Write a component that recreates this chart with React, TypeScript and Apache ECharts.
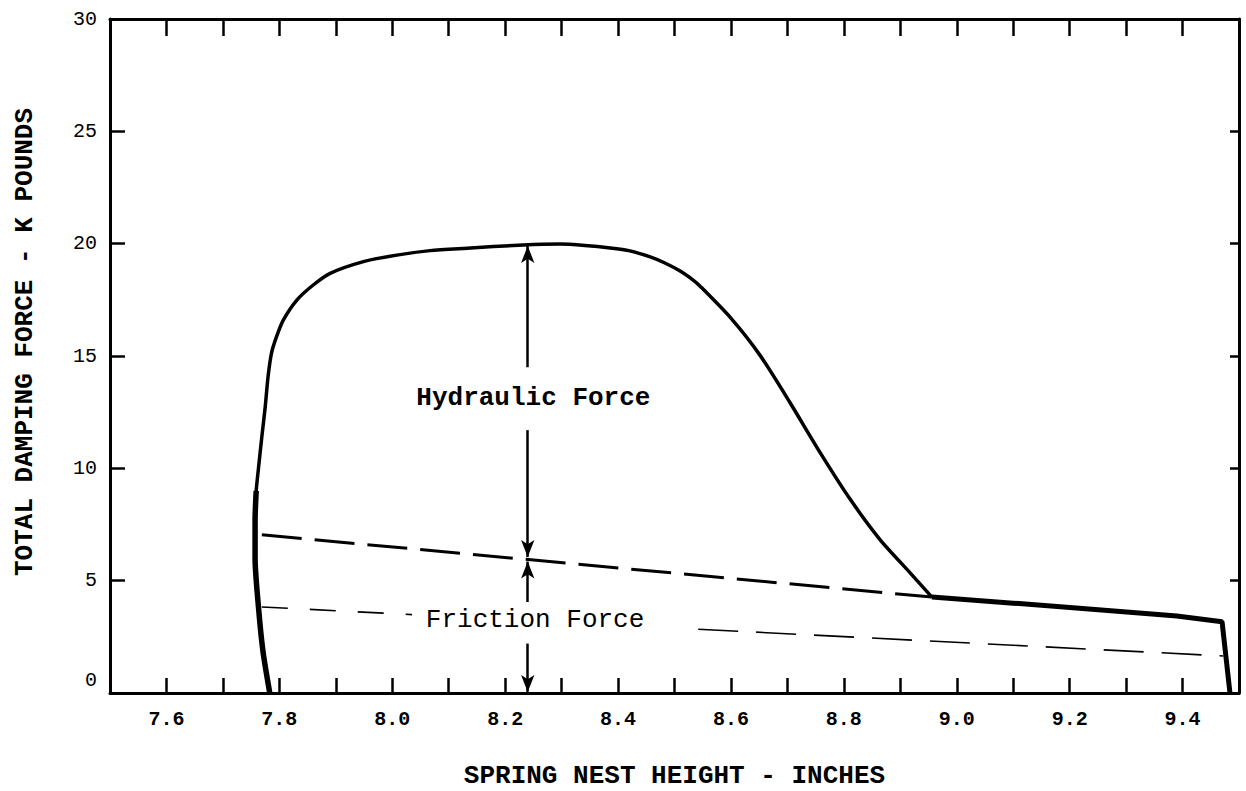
import React, { useEffect, useRef } from 'react';
import * as echarts from 'echarts';

// Axis ranges / ticks
const xRange = [7.5, 9.5];
const xStep = 0.1;
const yRange = [0, 30];
const yStep = 5;
const xTickValues = [7.6, 7.7, 7.8, 7.9, 8.0, 8.1, 8.2, 8.3, 8.4, 8.5, 8.6, 8.7, 8.8, 8.9, 9.0, 9.1, 9.2, 9.3, 9.4];
const yTickValues = [5, 10, 15, 20, 25];

// Total damping force curve (smooth part): [height in, force kip]
const hydraulicCurve: [number, number][] = [
  [7.783, 0],
  [7.771, 1.85],
  [7.763, 3.83],
  [7.757, 6.0],
  [7.757, 7.7],
  [7.759, 9.0],
  [7.763, 10.0],
  [7.769, 11.41],
  [7.775, 12.74],
  [7.780, 14.08],
  [7.786, 15.12],
  [7.795, 15.86],
  [7.807, 16.6],
  [7.831, 17.49],
  [7.860, 18.16],
  [7.890, 18.68],
  [7.949, 19.2],
  [8.008, 19.49],
  [8.067, 19.69],
  [8.126, 19.79],
  [8.232, 19.94],
  [8.297, 19.98],
  [8.341, 19.92],
  [8.386, 19.81],
  [8.421, 19.68],
  [8.457, 19.41],
  [8.483, 19.14],
  [8.510, 18.78],
  [8.533, 18.38],
  [8.545, 18.12],
  [8.598, 16.74],
  [8.651, 15.05],
  [8.705, 12.91],
  [8.758, 10.70],
  [8.811, 8.63],
  [8.864, 6.83],
  [8.917, 5.36],
  [8.956, 4.27],
];

// Friction-only plateau and drop
const plateauCurve: [number, number][] = [
  [8.956, 4.27],
  [9.10, 4.0],
  [9.206, 3.79],
  [9.39, 3.43],
  [9.47, 3.17],
  [9.484, 0],
];

// Heavier retraced left leg
const leftLeg: [number, number][] = [
  [7.783, 0],
  [7.771, 1.85],
  [7.763, 3.83],
  [7.757, 6.0],
  [7.757, 7.7],
  [7.759, 9.0],
];

// Upper dashed line (hydraulic / friction boundary)
const boundaryLine: [number, number][] = [
  [7.769, 7.04],
  [8.956, 4.27],
];

// Lower thin dashed line (interrupted by the label)
const frictionLineLeft: [number, number][] = [
  [7.769, 3.83],
  [8.035, 3.49],
];
const frictionLineRight: [number, number][] = [
  [8.542, 2.84],
  [9.472, 1.65],
];

// Dimension arrows at x = 8.24 : [fromY, toY]
const arrowX = 8.24;
const arrowSpans: [number, number][] = [
  [14.5, 19.9],
  [11.7, 6.05],
  [4.05, 5.85],
  [2.2, 0.05],
];

// Annotation labels
const annotationNames = ['Hydraulic Force', 'Friction Force'];
const annotationPos: [number, number][] = [
  [8.25, 13.15],
  [8.253, 3.25],
];
const annotationBold = [true, false];

const FONT = 'Liberation Mono';

// layout (pixels)
const GRID = { left: 110, right: 7, top: 19, bottom: 98 };
const W = 1246;
const H = 791;

export default function App() {
  const ref = useRef<HTMLDivElement>(null);

  useEffect(() => {
    if (!ref.current) return;
    const chart = echarts.init(ref.current, undefined, { renderer: 'svg' });

    const black = '#000';
    const baseX = {
      type: 'value' as const,
      min: xRange[0],
      max: xRange[1],
      interval: xStep,
      splitLine: { show: false },
    };
    const baseY = {
      type: 'value' as const,
      min: yRange[0],
      max: yRange[1],
      interval: yStep,
      splitLine: { show: false },
    };

    // tick lengths in pixels -> data units
    const xPerPx = (xRange[1] - xRange[0]) / (W - GRID.left - GRID.right);
    const yPerPx = (yRange[1] - yRange[0]) / (H - GRID.top - GRID.bottom);
    const tickSegments: any[] = [];
    xTickValues.forEach((v) => {
      tickSegments.push([{ coord: [v, yRange[0]] }, { coord: [v, yRange[0] + 15 * yPerPx] }]);
      tickSegments.push([{ coord: [v, yRange[1]] }, { coord: [v, yRange[1] - 17 * yPerPx] }]);
    });
    yTickValues.forEach((v) => {
      tickSegments.push([{ coord: [xRange[0], v] }, { coord: [xRange[0] + 15 * xPerPx, v] }]);
      tickSegments.push([{ coord: [xRange[1], v] }, { coord: [xRange[1] - 9 * xPerPx, v] }]);
    });

    const option: any = {
      animation: false,
      backgroundColor: '#fff',
      grid: {
        ...GRID,
        containLabel: false,
        outerBoundsMode: 'none',
      },
      xAxis: [
        {
          ...baseX,
          position: 'bottom',
          axisLine: { show: true, onZero: false, lineStyle: { color: black, width: 3 } },
          axisTick: { show: false },
          axisLabel: {
            color: black,
            fontFamily: FONT,
            fontWeight: 'bold',
            fontSize: 20,
            margin: 16,
            formatter: (v: number) => {
              const k = Math.round(v * 10);
              return k % 2 === 0 ? v.toFixed(1) : '';
            },
          },
          name: 'SPRING NEST HEIGHT - INCHES',
          nameLocation: 'middle',
          nameGap: 70,
          nameTextStyle: {
            color: black,
            fontFamily: FONT,
            fontWeight: 'bold',
            fontSize: 26,
            lineHeight: 26,
          },
        },
        {
          ...baseX,
          position: 'top',
          axisLine: { show: true, onZero: false, lineStyle: { color: black, width: 3 } },
          axisTick: { show: false },
          axisLabel: { show: false },
        },
      ],
      yAxis: [
        {
          ...baseY,
          position: 'left',
          axisLine: { show: true, onZero: false, lineStyle: { color: black, width: 3 } },
          axisTick: { show: false },
          axisLabel: {
            color: black,
            fontFamily: FONT,
            fontSize: 20,
            margin: 13,
            formatter: (v: number) => (v === 0 ? '{z|0}' : String(v)),
            rich: { z: { fontFamily: FONT, fontSize: 20, color: black, padding: [0, 0, 26, 0] } },
          },
          name: 'TOTAL DAMPING FORCE - K POUNDS',
          nameLocation: 'middle',
          nameGap: 72,
          nameTextStyle: {
            color: black,
            fontFamily: FONT,
            fontWeight: 'bold',
            fontSize: 26,
            padding: [0, 0, 0, 28],
          },
        },
        {
          ...baseY,
          position: 'right',
          axisLine: { show: true, onZero: false, lineStyle: { color: black, width: 3 } },
          axisTick: { show: false },
          axisLabel: { show: false },
        },
      ],
      series: [
        // inward-pointing frame ticks
        {
          type: 'line',
          data: [],
          symbol: 'none',
          markLine: {
            silent: true,
            symbol: ['none', 'none'],
            label: { show: false },
            lineStyle: { color: black, width: 2.5, type: 'solid' },
            data: tickSegments,
          },
          z: 3,
        },
        {
          type: 'line',
          data: hydraulicCurve,
          smooth: 0.25,
          showSymbol: false,
          symbol: 'none',
          lineStyle: { color: black, width: 3.5 },
          z: 5,
        },
        {
          type: 'line',
          data: plateauCurve,
          showSymbol: false,
          symbol: 'none',
          lineStyle: { color: black, width: 5 },
          z: 5,
        },
        {
          type: 'line',
          data: leftLeg,
          smooth: 0.25,
          showSymbol: false,
          symbol: 'none',
          lineStyle: { color: black, width: 5.5 },
          z: 5,
        },
        {
          type: 'line',
          data: boundaryLine,
          showSymbol: false,
          symbol: 'none',
          lineStyle: { color: black, width: 3, type: [40, 13] },
          z: 4,
        },
        {
          type: 'line',
          data: frictionLineLeft,
          showSymbol: false,
          symbol: 'none',
          lineStyle: { color: black, width: 1.6, type: [26, 22] },
          z: 4,
        },
        {
          type: 'line',
          data: frictionLineRight,
          showSymbol: false,
          symbol: 'none',
          lineStyle: { color: black, width: 1.6, type: [40, 18] },
          z: 4,
        },
        {
          type: 'line',
          data: [],
          symbol: 'none',
          markLine: {
            silent: true,
            symbol: ['none', 'arrow'],
            symbolSize: [10, 17],
            label: { show: false },
            lineStyle: { color: black, width: 2.5, type: 'solid' },
            data: arrowSpans.map(([a, b]) => [
              { coord: [arrowX, a] },
              { coord: [arrowX, b] },
            ]),
          },
          z: 6,
        },
      ],
    };

    chart.setOption(option);

    const texts = annotationPos.map((p, i) => {
      const [px, py] = chart.convertToPixel({ xAxisIndex: 0, yAxisIndex: 0 }, p) as number[];
      return {
        type: 'text',
        x: px,
        y: py,
        z: 10,
        style: {
          text: annotationNames[i],
          fill: black,
          fontFamily: FONT,
          fontWeight: annotationBold[i] ? 'bold' : 'normal',
          fontSize: 26,
          align: 'center',
          verticalAlign: 'middle',
        },
      };
    });
    chart.setOption({ graphic: texts });

    return () => chart.dispose();
  }, []);

  return (
    <div
      ref={ref}
      style={{ position: 'absolute', left: 0, top: 0, width: W, height: H, background: '#fff' }}
    />
  );
}
